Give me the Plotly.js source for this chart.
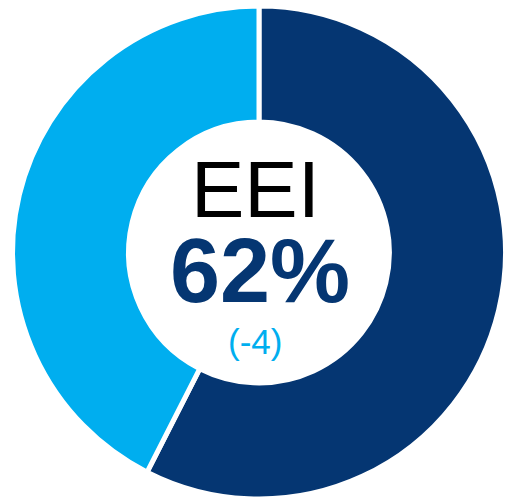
<!DOCTYPE html>
<html>
<head>
<meta charset="utf-8">
<script src="https://cdn.plot.ly/plotly-3.0.1.min.js"></script>
<style>html,body{margin:0;padding:0;background:#fff}#chart{width:506px;height:499px}</style>
</head>
<body>
<div id="chart"></div>
<script>
const categories = ["Engaged", "Not engaged"];
const values = [57.5, 42.5];
const colors = ["#053672", "#00AEEF"];
const centerTitle = "EEI";
const centerValue = "62%";
const centerChange = "(-4)";

const W = 506, H = 499;
const data = [{
  type: "pie",
  labels: categories,
  values: values,
  sort: false,
  direction: "clockwise",
  rotation: 0,
  hole: 0.529,
  textinfo: "none",
  hoverinfo: "none",
  marker: {colors: colors, line: {color: "#ffffff", width: 5}},
  domain: {x: [12 / W, 1], y: [0, (H - 6) / H]},
  showlegend: false
}];

function py(px) { return 1 - px / H; }
const layout = {
  width: W, height: H,
  margin: {l: 0, r: 0, t: 0, b: 0},
  paper_bgcolor: "#ffffff",
  showlegend: false,
  annotations: [
    {text: centerTitle, x: 256 / W, y: py(189), xref: "paper", yref: "paper", xanchor: "center", yanchor: "middle", showarrow: false, height: 66,
     font: {family: "Liberation Sans, Arial, sans-serif", size: 80, color: "#000000"}},
    {text: "<b>" + centerValue + "</b>", x: 260 / W, y: py(271), xref: "paper", yref: "paper", xanchor: "center", yanchor: "middle", showarrow: false, height: 76,
     font: {family: "Liberation Sans, Arial, sans-serif", size: 90, color: "#053672"}},
    {text: centerChange, x: 255 / W, y: py(341), xref: "paper", yref: "paper", xanchor: "center", yanchor: "middle", showarrow: false, height: 42,
     font: {family: "Liberation Sans, Arial, sans-serif", size: 35, color: "#00AEEF"}}
  ]
};
Plotly.newPlot("chart", data, layout, {displayModeBar: false, staticPlot: true});
</script>
</body>
</html>
